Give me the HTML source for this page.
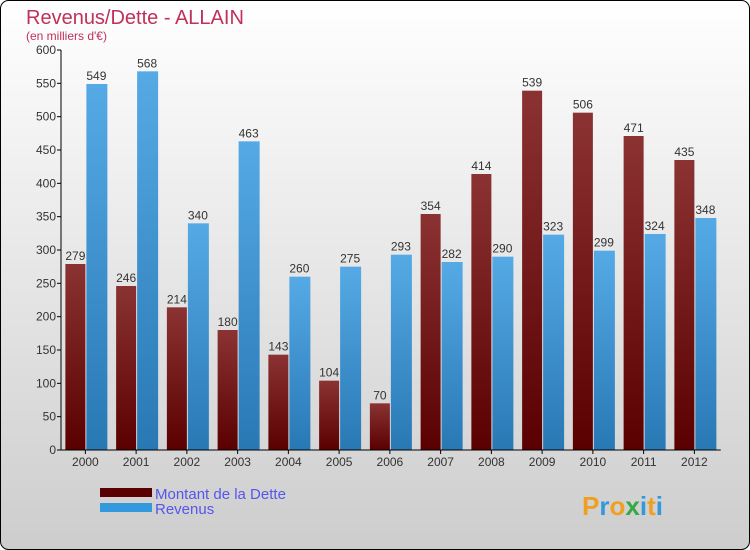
<!DOCTYPE html>
<html><head><meta charset="utf-8"><style>
body{margin:0}
svg{display:block;font-family:"Liberation Sans","DejaVu Sans",sans-serif}
</style></head><body>
<svg width="750" height="550" id="c">
<defs>
<linearGradient id="bg" x1="0" y1="0" x2="0" y2="1"><stop offset="0" stop-color="#ffffff"/><stop offset="1" stop-color="#cdcdcd"/></linearGradient>
<linearGradient id="gd" x1="0" y1="0" x2="0" y2="1"><stop offset="0" stop-color="#8b3232"/><stop offset="1" stop-color="#5a0000"/></linearGradient>
<linearGradient id="gr" x1="0" y1="0" x2="0" y2="1"><stop offset="0" stop-color="#55aae6"/><stop offset="1" stop-color="#2878b4"/></linearGradient>
</defs>
<rect x="0.5" y="0.5" width="749" height="549" rx="8" fill="url(#bg)" stroke="#000"/>
<text x="26" y="24" font-size="20" fill="#c0305a">Revenus/Dette - ALLAIN</text>
<text x="26" y="40" font-size="12" fill="#c0305a">(en milliers d'€)</text>
<g id="plot"></g>
<rect x="100" y="488" width="52" height="9" fill="#5a0000"/>
<rect x="100" y="503" width="52" height="9" fill="#3399dd"/>
<text x="155" y="499" font-size="15" fill="#5555ee">Montant de la Dette</text>
<text x="155" y="514" font-size="15" fill="#5555ee">Revenus</text>
<text x="582" y="515" font-size="26" font-weight="bold" fill="#3399dd"><tspan fill="#f0a020">P</tspan><tspan fill="#3399dd">r</tspan><tspan fill="#f0a020">o</tspan><tspan fill="#33aa44">x</tspan><tspan fill="#3399dd">i</tspan><tspan fill="#f0a020">t</tspan><tspan fill="#3399dd">i</tspan></text>
</svg>
<script>
const years=["2000","2001","2002","2003","2004","2005","2006","2007","2008","2009","2010","2011","2012"];
const dette=[279,246,214,180,143,104,70,354,414,539,506,471,435];
const revenus=[549,568,340,463,260,275,293,282,290,323,299,324,348];
const yTicks=[0,50,100,150,200,250,300,350,400,450,500,550,600];
const NS="http://www.w3.org/2000/svg";
const g=document.getElementById("plot");
const x0=61,step=50.75,yb=450,yt=50,ymax=600;
const y=v=>yb-(v/ymax)*(yb-yt);
function el(t,a,txt){const e=document.createElementNS(NS,t);for(const k in a)e.setAttribute(k,a[k]);if(txt!==undefined)e.textContent=txt;g.appendChild(e);return e;}
yTicks.forEach(v=>{
  const l=el("line",{x1:x0-4,x2:x0,y1:y(v),y2:y(v),stroke:"#000"});
  
  
  const t=el("text",{x:x0-5,y:y(v)+4,"text-anchor":"end","font-size":12,fill:"#333"},v);
  
  
});
years.forEach((yr,i)=>{
  const c=x0+step*(i+0.5)-1;
  const bd=el("rect",{x:c-20,y:y(dette[i]),width:20,height:yb-y(dette[i]),fill:"url(#gd)"});
  
  
  const br=el("rect",{x:c+1,y:y(revenus[i]),width:21,height:yb-y(revenus[i]),fill:"url(#gr)"});
  
  
  const td=el("text",{x:c-10,y:y(dette[i])-4,"text-anchor":"middle","font-size":12,fill:"#333"},dette[i]);
  
  
  const tr=el("text",{x:c+11,y:y(revenus[i])-4,"text-anchor":"middle","font-size":12,fill:"#333"},revenus[i]);
  
  
  const tk=el("line",{x1:c,x2:c,y1:yb,y2:yb+4,stroke:"#000"});
  
  
  const xl=el("text",{x:c,y:yb+16,"text-anchor":"middle","font-size":12,fill:"#333"},yr);
  
  
});
const ya=el("line",{x1:x0,x2:x0,y1:yt,y2:yb,stroke:"#000"});


const xa=el("line",{x1:x0,x2:x0+step*years.length,y1:yb,y2:yb,stroke:"#000"});


</script>
</body></html>
